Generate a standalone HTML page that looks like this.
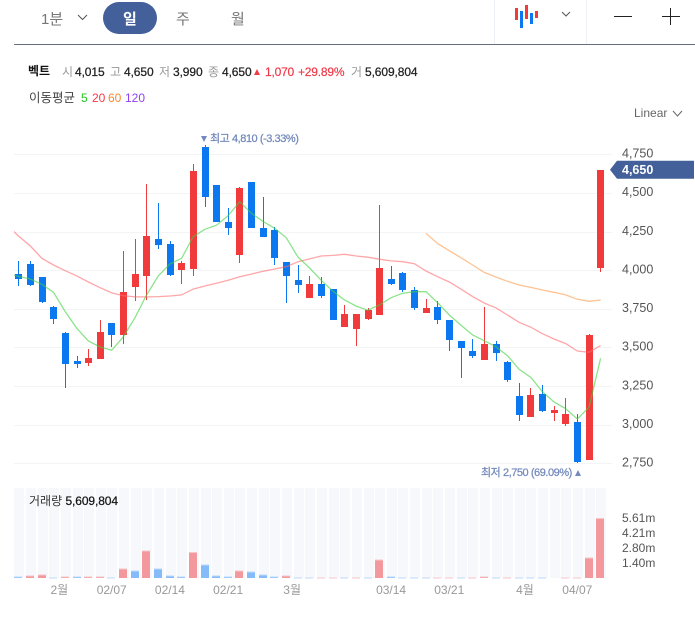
<!DOCTYPE html>
<html lang="ko">
<head>
<meta charset="utf-8">
<title>벡트 chart</title>
<style>
html,body{margin:0;padding:0;background:#fff;}
#page{position:relative;width:695px;height:622px;overflow:hidden;background:#fff;font-family:"Liberation Sans","Noto Sans CJK KR",sans-serif;font-size:12px;color:#222;}
.t{position:absolute;z-index:2;white-space:nowrap;line-height:16px;height:16px;}
.g{color:#999;}
.n{color:#222;font-weight:400;-webkit-text-stroke:0.25px #222;letter-spacing:-0.1px;}
.r{color:#f03a48;-webkit-text-stroke:0.2px #f03a48;letter-spacing:-0.2px;}
.a{color:#7389bb;font-size:11px;-webkit-text-stroke:0.25px #7389bb;letter-spacing:-0.45px;}
svg{position:absolute;left:0;top:0;z-index:1;}
svg text{font-family:"Liberation Sans","Noto Sans CJK KR",sans-serif;}
</style>
</head>
<body>
<div id="page">
  <div class="t" style="left:41px;top:12px;font-size:15px;color:#777;">1분</div>
  <div style="position:absolute;z-index:1;left:103px;top:2px;width:54px;height:32px;border-radius:16px;background:#44609b;"></div>
  <div class="t" style="left:123px;top:12px;font-size:15px;color:#fff;font-weight:700;">일</div>
  <div class="t" style="left:176px;top:12px;font-size:15px;color:#777;">주</div>
  <div class="t" style="left:231px;top:12px;font-size:15px;color:#777;">월</div>
  <div style="position:absolute;left:14px;top:44px;width:681px;height:1px;background:#676e7b;"></div>
  <div style="position:absolute;left:494px;top:0;width:1px;height:44px;background:#edf0f5;"></div>
  <div style="position:absolute;left:586px;top:0;width:1px;height:44px;background:#edf0f5;"></div>

  <div class="t" style="left:28px;top:63px;font-weight:700;color:#111;">벡트</div>
  <div class="t g" style="left:62px;top:64px;">시</div>
  <div class="t n" style="left:75px;top:64px;">4,015</div>
  <div class="t g" style="left:110px;top:64px;">고</div>
  <div class="t n" style="left:124px;top:64px;">4,650</div>
  <div class="t g" style="left:159px;top:64px;">저</div>
  <div class="t n" style="left:173px;top:64px;">3,990</div>
  <div class="t g" style="left:208px;top:64px;">종</div>
  <div class="t n" style="left:222px;top:64px;">4,650</div>
  <div class="t r" style="left:265px;top:64px;">1,070</div>
  <div class="t r" style="left:298px;top:64px;">+29.89%</div>
  <div class="t g" style="left:351px;top:64px;">거</div>
  <div class="t n" style="left:365px;top:64px;">5,609,804</div>

  <div class="t" style="left:29px;top:90px;color:#444;font-size:12.5px;">이동평균</div>
  <div class="t" style="left:81px;top:90px;color:#22c522;">5</div>
  <div class="t" style="left:92px;top:90px;color:#f53a4a;">20</div>
  <div class="t" style="left:108px;top:90px;color:#f5892b;">60</div>
  <div class="t" style="left:125px;top:90px;color:#9040f0;">120</div>
  <div class="t" style="left:634px;top:105px;color:#666;">Linear</div>

  <div class="t a" style="left:210px;top:131px;">최고 4,810 (-3.33%)</div>
  <div class="t a" style="left:481px;top:465px;">최저 2,750 (69.09%)</div>
  <div class="t" style="left:29px;top:493px;color:#333;">거래량 <span class="n" style="color:#111;">5,609,804</span></div>

  <svg id="chart" width="695" height="622" viewBox="0 0 695 622"></svg>
</div>
<script>
var opens=[3975,4040,3955,3760,3595,3415,3400,3425,3660,3580,3890,3960,4200,4170,4000,4010,4800,4550,4310,4100,4570,4275,4260,4055,3935,3820,3910,3880,3635,3620,3685,3710,3945,3980,3870,3725,3760,3680,3540,3475,3420,3525,3405,3185,3050,3200,3075,3005,3020,2770,4015];
var highs=[4060,4060,3955,3770,3600,3445,3490,3680,3660,4125,4200,4560,4435,4190,4060,4685,4810,4550,4400,4540,4570,4475,4280,4055,4035,3960,3955,3880,3775,3715,3755,4420,4025,3990,3890,3815,3800,3680,3540,3555,3760,3540,3415,3270,3235,3255,3120,3175,3070,3585,4650];
var lows=[3900,3900,3790,3655,3240,3370,3380,3425,3500,3525,3800,3805,4135,3965,3910,3960,4410,4310,4225,4045,4270,4215,4035,3790,3850,3820,3820,3680,3635,3510,3675,3710,3905,3860,3745,3720,3650,3480,3305,3430,3420,3415,3275,3025,3050,3080,3025,2995,2750,2770,3990];
var closes=[3945,3905,3795,3685,3395,3395,3430,3600,3580,3860,3975,4220,4165,3970,4045,4640,4475,4310,4275,4530,4275,4215,4080,3960,3905,3910,3835,3680,3715,3715,3745,4015,3910,3870,3755,3755,3680,3550,3495,3445,3525,3465,3290,3065,3195,3090,3095,3070,2760,3580,4650];
var ma5Prior=3982;
var ma5=[3960,3943,3909,3857,3732,3624,3542,3503,3482,3570,3693,3840,3963,4040,4077,4217,4265,4291,4353,4443,4368,4316,4271,4210,4085,4014,3935,3864,3807,3768,3741,3775,3822,3851,3861,3861,3790,3710,3645,3581,3544,3505,3447,3359,3307,3214,3147,3104,3037,3113,3430];
var ma20Prior=4292;
var ma20=[4221,4157,4077,4034,3997,3963,3924,3887,3853,3835,3827,3827,3829,3833,3840,3878,3898,3915,3935,3958,3975,3993,4008,4023,4055,4073,4092,4096,4103,4092,4084,4071,4060,4055,4042,3995,3958,3924,3878,3829,3788,3757,3710,3663,3631,3589,3555,3525,3477,3469,3512];
var ma60=[null,null,null,null,null,null,null,null,null,null,null,null,null,null,null,null,null,null,null,null,null,null,null,null,null,null,null,null,null,null,null,null,null,null,null,4239,4172,4126,4081,4034,3986,3956,3928,3904,3889,3872,3857,3840,3812,3799,3807];
var volumes=[0.16,0.25,0.34,0.06,0.16,0.16,0.16,0.16,0.06,0.9,0.72,2.59,0.9,0.25,0.16,2.43,1.28,0.25,0.16,0.72,0.62,0.34,0.16,0.25,0.06,0.06,0.06,0.06,0.06,0.06,0.06,1.75,0.16,0.06,0.06,0.06,0.06,0.06,0.06,0.06,0.16,0.06,0.06,0.06,0.06,0.06,0,0.06,0.06,1.93,5.61];
var volumeUp=[0,1,1,0,1,0,1,1,0,1,0,1,0,0,0,1,0,0,0,1,0,0,0,1,0,0,1,1,0,1,0,1,0,0,0,0,1,1,0,1,1,0,1,0,0,0,0,1,1,1,1];
var priceTicks=[4750,4500,4250,4000,3750,3500,3250,3000,2750];
var volumeTicks=[5.61,4.21,2.80,1.40];
var dateLabels=["2월","02/07","02/14","02/21","3월","03/14","03/21","4월","04/07"];
var dateIndexes=[3.5,8,13,18,23.5,32,37,43.5,48];
var lastPrice=4650;

var NS='http://www.w3.org/2000/svg';
var svg=document.getElementById('chart');
function node(tag,attrs,text){
  var el=document.createElementNS(NS,tag);
  for(var k in attrs){el.setAttribute(k,attrs[k]);}
  if(text!==undefined){el.textContent=text;}
  svg.appendChild(el);
  return el;
}
function y(p){return 154.3+(4750-p)*0.15455;}
function barLeft(i){return Math.round(15.3+11.64*i);}
function cx(i){return 18.6+11.64*i;}
function vy(v){return 578-v*10.7;}
function fmt(n){return String(n).replace(/\B(?=(\d{3})+$)/g,',');}

var clip=node('clipPath',{id:'plot-clip'});


var clipRect=document.createElementNS(NS,'rect');
clipRect.setAttribute('x','14');
clipRect.setAttribute('y','120');
clipRect.setAttribute('width','600');
clipRect.setAttribute('height','360');
clip.appendChild(clipRect);

priceTicks.forEach(function(p){
  var gy=Math.round(y(p));
  var line=node('rect',{x:14,y:gy,width:598,height:1,fill:'#f3f4f6','shape-rendering':'crispEdges'});
  
  
  var label=node('text',{x:622,y:y(p)+3.2,'font-size':12.5,fill:'#555'},fmt(p));
  
  
});

volumes.forEach(function(v,i){
  var l=barLeft(i);
  var col=node('rect',{x:l-1,y:488,width:10,height:90,fill:'#f7f8fc','shape-rendering':'crispEdges'});
  
  
  if(v<=0){return;}
  var up=volumeUp[i]===1;
  var top=vy(v);
  var bar=node('rect',{x:l-1,y:top,width:8,height:578-top,fill:up?'#f3989c':'#85bbf8','shape-rendering':'crispEdges'});
  
  
  var cap=node('rect',{x:l-1,y:top,width:8,height:1,fill:up?'#f6c6c9':'#bcd9fa','shape-rendering':'crispEdges'});
  
  
});

volumeTicks.forEach(function(v){
  var label=node('text',{x:622,y:vy(v)+4,'font-size':12,fill:'#555'},v.toFixed(2)+'m');
  
  
});

dateLabels.forEach(function(d,i){
  var label=node('text',{x:cx(dateIndexes[i]),y:594,'font-size':12,fill:'#999','text-anchor':'middle'},d);
  
  
});

opens.forEach(function(o,i){
  var c=closes[i];
  var color=c>=o?'#f03a3c':'#0b78f0';
  var l=barLeft(i);
  var hy=Math.round(y(highs[i]));
  var ly=Math.round(y(lows[i]));
  var wick=node('rect',{x:l+3,y:hy,width:1,height:Math.max(1,ly-hy),fill:color,'shape-rendering':'crispEdges'});
  
  
  var ty=Math.round(y(Math.max(o,c)));
  var by=Math.round(y(Math.min(o,c)));
  var body=node('rect',{x:l,y:ty,width:7,height:Math.max(1,by-ty),fill:color,'shape-rendering':'crispEdges'});
  
  
});

function drawLine(values,prior,color,name){
  var pts=[];
  if(prior!==null){pts.push(cx(-1).toFixed(1)+','+y(prior).toFixed(1));}
  values.forEach(function(v,i){ if(v!==null){pts.push(cx(i).toFixed(1)+','+y(v).toFixed(1));} });
  var line=node('polyline',{points:pts.join(' '),fill:'none',stroke:color,'stroke-width':1.3,'stroke-opacity':0.6,'clip-path':'url(#plot-clip)'});
  
  
}
drawLine(ma60,null,'#ff9a4a','ma60-line');
drawLine(ma20,ma20Prior,'#ff6a70','ma20-line');
drawLine(ma5,ma5Prior,'#3fd23f','ma5-line');

var ly0=y(lastPrice);
var tag=node('polygon',{points:'610,'+ly0+' 617,'+(ly0-9)+' 694,'+(ly0-9)+' 694,'+(ly0+9)+' 617,'+(ly0+9),fill:'#44609b'});


var tagText=node('text',{x:622,y:ly0+4,'font-size':12.5,fill:'#fff','font-weight':'700'},fmt(lastPrice));



var maxMark=node('polygon',{points:'201,136 207,136 204,142',fill:'#7389bb'});


var minMark=node('polygon',{points:'575,476 581,476 578,470',fill:'#7389bb'});


var upMark=node('polygon',{points:'254,75 260,75 257,69',fill:'#f03a48'});



var chev1=node('polyline',{points:'78,15 82.5,19.5 87,15',fill:'none',stroke:'#555','stroke-width':1});


var chev2=node('polyline',{points:'562,12 566,16 570,12',fill:'none',stroke:'#555','stroke-width':1});


var chev3=node('polyline',{points:'673,111 677.5,116 682,111',fill:'none',stroke:'#666','stroke-width':1});



var minusIcon=node('rect',{x:614,y:16,width:18,height:1,fill:'#222','shape-rendering':'crispEdges'});


var plusH=node('rect',{x:662,y:16,width:18,height:1,fill:'#222','shape-rendering':'crispEdges'});


var plusV=node('rect',{x:670,y:8,width:1,height:17,fill:'#222','shape-rendering':'crispEdges'});



var iconBars=[[515,8,12,'#f03a3c'],[520,11,17,'#0b78f0'],[525,5,14,'#f03a3c'],[530,13,11,'#0b78f0'],[535,11,7,'#f03a3c']];
iconBars.forEach(function(b){
  var r=node('rect',{x:b[0],y:b[1],width:3,height:b[2],fill:b[3],'shape-rendering':'crispEdges'});
  
  
});
</script>
</body>
</html>
